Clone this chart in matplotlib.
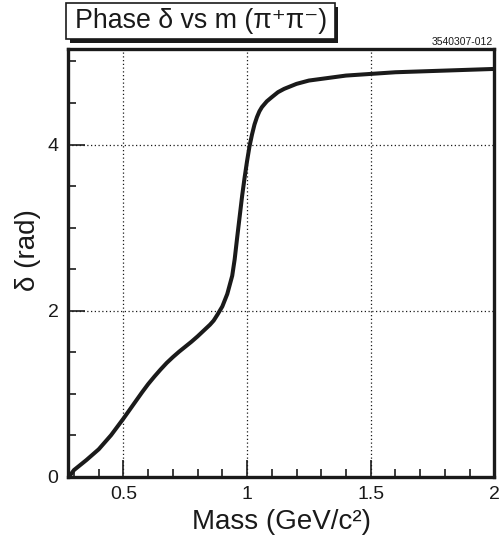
import matplotlib
matplotlib.use("Agg")
import matplotlib.pyplot as plt
from matplotlib.patches import Rectangle
from matplotlib.ticker import MultipleLocator

plt.rcParams['font.family'] = ['Liberation Sans', 'DejaVu Sans']

mass = [0.28, 0.30, 0.35, 0.40, 0.45, 0.50, 0.55, 0.575, 0.60, 0.625, 0.65,
        0.675, 0.70, 0.725, 0.75, 0.775, 0.80, 0.825, 0.85, 0.865, 0.88,
        0.90, 0.92, 0.94, 0.95, 0.96, 0.97, 0.98, 0.99, 1.00, 1.01, 1.02,
        1.03, 1.04, 1.05, 1.06, 1.08, 1.10, 1.125, 1.15, 1.175, 1.20, 1.25,
        1.30, 1.40, 1.50, 1.60, 1.70, 1.80, 1.90, 2.00]
phase = [0.00, 0.08, 0.20, 0.33, 0.50, 0.70, 0.91, 1.015, 1.115, 1.205, 1.29,
         1.37, 1.44, 1.505, 1.565, 1.625, 1.69, 1.76, 1.83, 1.88, 1.95,
         2.05, 2.20, 2.42, 2.62, 2.88, 3.13, 3.38, 3.60, 3.80, 3.98, 4.12,
         4.24, 4.33, 4.40, 4.45, 4.52, 4.57, 4.63, 4.67, 4.70, 4.73, 4.77,
         4.79, 4.83, 4.85, 4.87, 4.88, 4.89, 4.90, 4.91]

x_ticks = [0.5, 1, 1.5, 2]
x_ticklabels = ['0.5', '1', '1.5', '2']
y_ticks = [0, 2, 4]
y_ticklabels = ['0', '2', '4']

W, H = 503, 543
fig = plt.figure(figsize=(W / 100, H / 100), dpi=100)
ax = fig.add_axes([68.3 / W, 1 - 476.7 / H, (494.3 - 68.3) / W, (476.7 - 49) / H])

ax.plot(mass, phase, color='#1a1a1a', lw=2.9, solid_capstyle='round',
        solid_joinstyle='round', zorder=3)
ax.set_xlim(0.277, 2.0)
ax.set_ylim(0, 5.15)

ax.set_xticks(x_ticks)
ax.set_xticklabels(x_ticklabels)
ax.set_yticks(y_ticks)
ax.set_yticklabels(y_ticklabels)
ax.xaxis.set_minor_locator(MultipleLocator(0.1))
ax.yaxis.set_minor_locator(MultipleLocator(0.5))
ax.tick_params(which='both', direction='in', top=False, right=False,
               width=1.2, color='#1a1a1a', labelsize=14, labelcolor='#1a1a1a')
ax.tick_params(which='major', length=12, pad=7)
ax.tick_params(which='minor', length=6)
ax.grid(True, which='major', linestyle=(0, (1, 2)), color='#1a1a1a', lw=0.9)
for s in ax.spines.values():
    s.set_linewidth(2.4)
    s.set_color('#1a1a1a')

ax.set_xlabel('Mass (GeV/c²)', fontsize=20, color='#1a1a1a', labelpad=4)
ax.set_ylabel('δ (rad)', fontsize=20, color='#1a1a1a')
ax.yaxis.set_label_coords(-0.064, 0.53)

# Title box with shadow
def fx(px):
    return px / W

def fy(py):
    return 1 - py / H

fig.add_artist(Rectangle((fx(70), fy(43)), fx(338) - fx(70), fy(7) - fy(43),
                         transform=fig.transFigure, facecolor='#1a1a1a',
                         edgecolor='none', zorder=1))
fig.add_artist(Rectangle((fx(66), fy(38.5)), fx(335) - fx(66), fy(3) - fy(38.5),
                         transform=fig.transFigure, facecolor='white',
                         edgecolor='#1a1a1a', lw=1.2, zorder=2))
fig.text(fx(201), fy(21), 'Phase δ vs m (π⁺π⁻)', fontsize=19.3, ha='center',
         va='center', color='#1a1a1a', zorder=3)
fig.text(fx(493), fy(42), '3540307-012', fontsize=7.5, ha='right',
         va='center', color='#1a1a1a')

fig.savefig('out.png', dpi=100)
